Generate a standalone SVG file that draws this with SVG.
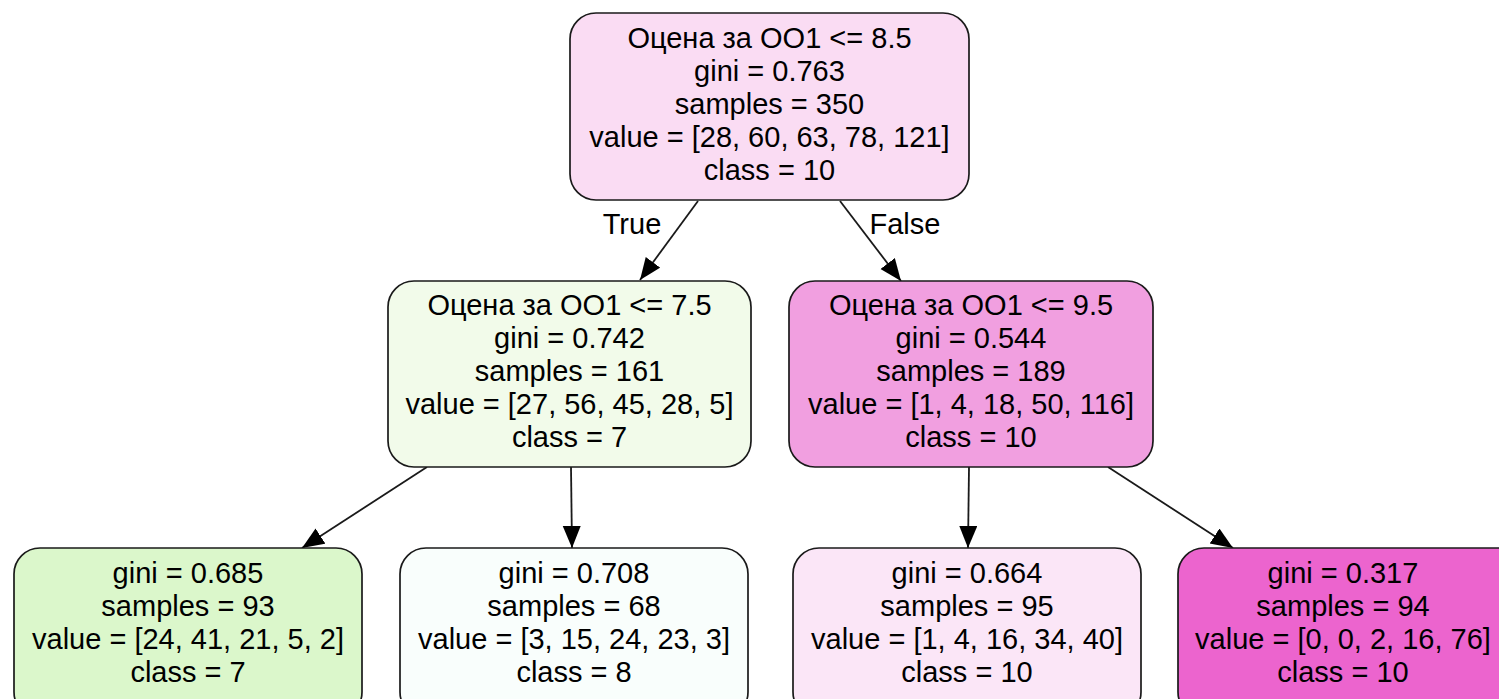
<svg xmlns="http://www.w3.org/2000/svg" width="1499" height="699" viewBox="0 0 1499 699">
<style>
.box{stroke:#1a1a1a;stroke-width:1.7}
text{font-family:"Liberation Sans",Arial,sans-serif;font-size:29px;fill:#000;text-anchor:middle}
.edge{stroke:#1a1a1a;stroke-width:1.8;fill:none}
</style>
<defs>
<marker id="arr" markerUnits="userSpaceOnUse" markerWidth="24" markerHeight="20" refX="22" refY="9" orient="auto">
<path d="M0,0 L22,9 L0,18 Z" fill="#000"/>
</marker>
</defs>
<rect width="1499" height="699" fill="#fff"/>
<g id="connectors">
<line class="edge" x1="698" y1="201" x2="640" y2="280" marker-end="url(#arr)"/>
<line class="edge" x1="840" y1="201" x2="901" y2="281" marker-end="url(#arr)"/>
<line class="edge" x1="427" y1="467" x2="302" y2="548" marker-end="url(#arr)"/>
<line class="edge" x1="571" y1="467" x2="572" y2="548" marker-end="url(#arr)"/>
<line class="edge" x1="969" y1="467" x2="968" y2="548" marker-end="url(#arr)"/>
<line class="edge" x1="1108" y1="467" x2="1233" y2="548" marker-end="url(#arr)"/>
<text x="632" y="234">True</text>
<text x="905" y="234">False</text>
</g>
<g id="n0">
<rect class="box" x="570" y="13" width="399" height="187" rx="26" fill="#fadcf3"/>
<text x="769.5" y="48">Оцена за ОО1 &lt;= 8.5</text>
<text x="769.5" y="81">gini = 0.763</text>
<text x="769.5" y="114">samples = 350</text>
<text x="769.5" y="147">value = [28, 60, 63, 78, 121]</text>
<text x="769.5" y="180">class = 10</text>
</g>
<g id="n1">
<rect class="box" x="388" y="281" width="363" height="186" rx="26" fill="#f2fbea"/>
<text x="569.5" y="315">Оцена за ОО1 &lt;= 7.5</text>
<text x="569.5" y="348">gini = 0.742</text>
<text x="569.5" y="381">samples = 161</text>
<text x="569.5" y="414">value = [27, 56, 45, 28, 5]</text>
<text x="569.5" y="447">class = 7</text>
</g>
<g id="n4">
<rect class="box" x="789" y="281" width="364" height="186" rx="26" fill="#f19fe0"/>
<text x="971" y="315">Оцена за ОО1 &lt;= 9.5</text>
<text x="971" y="348">gini = 0.544</text>
<text x="971" y="381">samples = 189</text>
<text x="971" y="414">value = [1, 4, 18, 50, 116]</text>
<text x="971" y="447">class = 10</text>
</g>
<g id="n2">
<rect class="box" x="14" y="548" width="348" height="170" rx="26" fill="#dbf7cb"/>
<text x="188" y="583">gini = 0.685</text>
<text x="188" y="616">samples = 93</text>
<text x="188" y="649">value = [24, 41, 21, 5, 2]</text>
<text x="188" y="682">class = 7</text>
</g>
<g id="n3">
<rect class="box" x="400" y="548" width="348" height="170" rx="26" fill="#f9fefc"/>
<text x="574" y="583">gini = 0.708</text>
<text x="574" y="616">samples = 68</text>
<text x="574" y="649">value = [3, 15, 24, 23, 3]</text>
<text x="574" y="682">class = 8</text>
</g>
<g id="n5">
<rect class="box" x="793" y="548" width="348" height="170" rx="26" fill="#fbe6f7"/>
<text x="967" y="583">gini = 0.664</text>
<text x="967" y="616">samples = 95</text>
<text x="967" y="649">value = [1, 4, 16, 34, 40]</text>
<text x="967" y="682">class = 10</text>
</g>
<g id="n6">
<rect class="box" x="1178" y="548" width="348" height="170" rx="26" fill="#ec64ce"/>
<text x="1343" y="583">gini = 0.317</text>
<text x="1343" y="616">samples = 94</text>
<text x="1343" y="649">value = [0, 0, 2, 16, 76]</text>
<text x="1343" y="682">class = 10</text>
</g>
</svg>
